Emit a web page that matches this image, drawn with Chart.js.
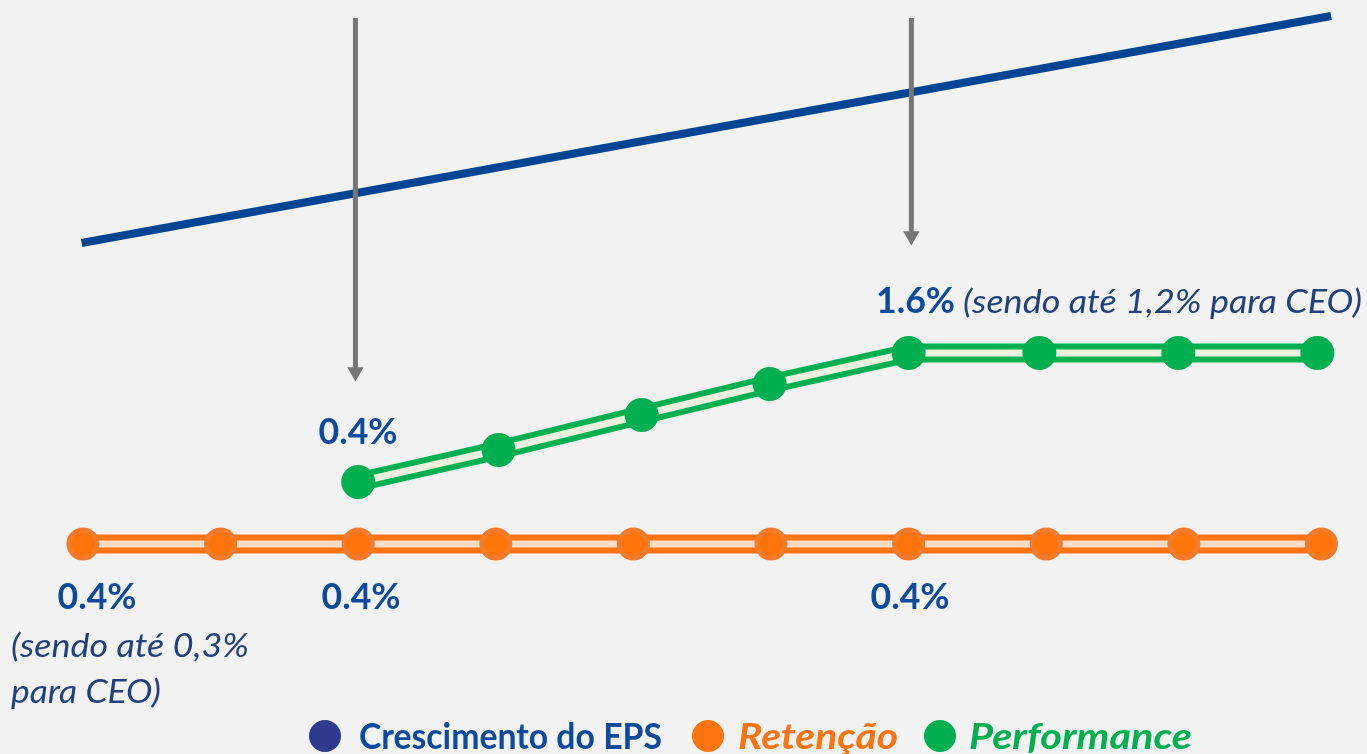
<!DOCTYPE html>
<html lang="pt">

<head>
    <meta http-equiv="Content-Type" content="text/html;charset=UTF-8">
    <title>Crescimento do EPS</title>
    <script src="https://cdn.jsdelivr.net/npm/chart.js@4.4.0/dist/chart.umd.min.js"></script>
</head>

<body style="margin: 0; background: #F2F2F2; overflow: hidden;">

    <canvas id="chart" width="1367" height="754"></canvas>

    <script>
        // pontos do eixo x (posicoes 0..9)
        var retencaoX = [0, 1, 2, 3, 4, 5, 6, 7, 8, 9];
        var retencao = [2.1, 2.1, 2.1, 2.1, 2.1, 2.1, 2.1, 2.1, 2.1, 2.1];

        var performanceX = [2, 3.02, 4.06, 4.99, 6, 6.95, 7.96, 8.97];
        var performance = [2.72, 3.04, 3.39, 3.70, 4.01, 4.01, 4.01, 4.01];

        var epsX = [-0.01, 9.07];
        var eps = [5.11, 7.38];

        // setas verticais
        var setaX = [1.98, 6.02];
        var setaTopo = [7.36, 7.36];
        var setaPonta = [3.82, 5.18];

        var legendLabels = ['Crescimento do EPS', 'Retenção', 'Performance'];

        function pts(xs, ys) {
            var out = [];
            for (var i = 0; i < xs.length; i++) {
                out.push({ x: xs[i], y: ys[i] });
            }
            return out;
        }

        var datasets = [];

        // setas (por cima de tudo)
        for (var i = 0; i < setaX.length; i++) {
            datasets.push({
                data: pts([setaX[i], setaX[i]], [setaTopo[i], setaPonta[i]]),
                borderColor: '#767676',
                borderWidth: 5,
                borderCapStyle: 'butt',
                pointStyle: 'triangle',
                pointRotation: 180,
                pointRadius: [0, 9.5],
                pointBorderWidth: 0,
                pointBackgroundColor: '#767676',
                order: 0
            });
        }

        // performance: linha interna + pontos
        datasets.push({
            data: pts(performanceX, performance),
            borderColor: '#EBF1DE',
            borderWidth: 7,
            pointRadius: 17,
            pointBorderWidth: 0,
            pointBackgroundColor: '#00B050',
            order: 1
        });
        datasets.push({
            data: pts(performanceX, performance),
            borderColor: '#00B050',
            borderWidth: 19,
            pointRadius: 0,
            order: 2
        });

        // retencao: linha interna + pontos
        datasets.push({
            data: pts(retencaoX, retencao),
            borderColor: '#FFDCC8',
            borderWidth: 7,
            pointRadius: 14,
            pointBorderWidth: 5,
            pointBorderColor: '#F47B2C',
            pointBackgroundColor: '#FF7408',
            order: 3
        });
        datasets.push({
            data: pts(retencaoX, retencao),
            borderColor: '#FF7410',
            borderWidth: 19,
            pointRadius: 0,
            order: 4
        });

        // EPS
        datasets.push({
            data: pts(epsX, eps),
            borderColor: '#004494',
            borderWidth: 8,
            borderCapStyle: 'butt',
            pointRadius: 0,
            order: 5
        });

        function drawText(ctx, text, x, y, font, color, width, align) {
            ctx.save();
            ctx.font = font;
            ctx.fillStyle = color;
            ctx.textBaseline = 'alphabetic';
            ctx.textAlign = 'left';
            var w = ctx.measureText(text).width;
            var sx = width ? width / w : 1;
            var left = x;
            if (align === 'center') left = x - (w * sx) / 2;
            ctx.translate(left, y);
            ctx.scale(sx, 1);
            ctx.fillText(text, 0, 0);
            ctx.restore();
        }

        var textos = {
            id: 'textos',
            afterDraw: function (chart) {
                var ctx = chart.ctx;
                var bold = 'bold 36px Lato';
                var ital = 'italic 33px Lato';
                var azul = '#0B4A9C';
                var azulEsc = '#21407E';

                drawText(ctx, '0.4%', 97, 609, bold, azul, 79, 'center');
                drawText(ctx, '0.4%', 361, 609, bold, azul, 79, 'center');
                drawText(ctx, '0.4%', 910, 609, bold, azul, 79, 'center');
                drawText(ctx, '0.4%', 358, 444, bold, azul, 79, 'center');
                drawText(ctx, '(sendo até 0,3%', 11, 657, ital, azulEsc, 238);
                drawText(ctx, 'para CEO)', 11, 703, ital, azulEsc, 150);
                drawText(ctx, '1.6%', 876, 313, bold, azul, 79);
                drawText(ctx, '(sendo até 1,2% para CEO)', 963, 313, ital, azulEsc, 399);

                // legenda
                var cores = ['#2E3A8E', '#FF7410', '#00B050'];
                var corTexto = ['#0B4A9C', '#FF7410', '#00B050'];
                var cx = [325, 708, 940];
                var tx = [359, 738, 969];
                var tw = [303, 160, 223];
                var fontes = ['bold 36px Lato', 'italic bold 36px Lato', 'italic bold 36px Lato'];
                for (var i = 0; i < legendLabels.length; i++) {
                    ctx.beginPath();
                    ctx.arc(cx[i], 736, 16, 0, Math.PI * 2);
                    ctx.fillStyle = cores[i];
                    ctx.fill();
                    drawText(ctx, legendLabels[i], tx[i], 749, fontes[i], corTexto[i], tw[i]);
                }
            }
        };

        new Chart(document.getElementById('chart').getContext('2d'), {
            type: 'line',
            data: { datasets: datasets },
            options: {
                responsive: false,
                animation: false,
                events: [],
                layout: { padding: 0, autoPadding: false },
                scales: {
                    x: { type: 'linear', min: -0.603, max: 9.331, display: false },
                    y: { type: 'linear', min: 0, max: 7.54, display: false }
                },
                elements: { line: { tension: 0 } },
                datasets: { line: { clip: false } },
                plugins: {
                    legend: { display: false },
                    tooltip: { enabled: false }
                }
            },
            plugins: [textos]
        });
    </script>

</body>

</html>
